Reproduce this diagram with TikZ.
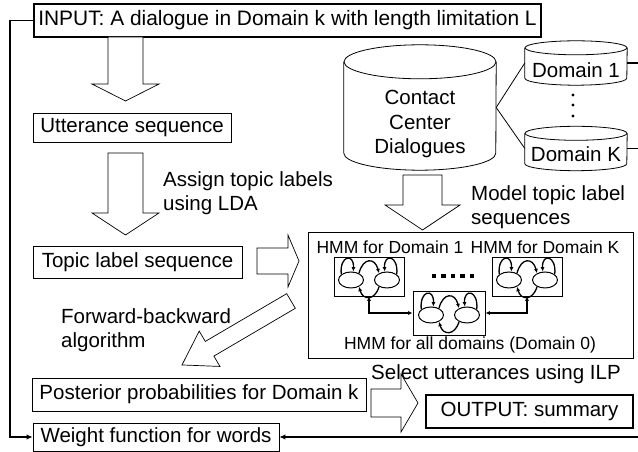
\documentclass[tikz,border=0pt]{standalone}
\usepackage{fontspec}
\setmainfont{Liberation Sans}
\usetikzlibrary{arrows.meta,shapes.geometric}
\newcommand\myhollowarrow[6]{%
  \begin{scope}[shift={#1}, rotate=#2]
    \draw[hollow] (0,#4) -- ({#3-#6},#4) -- ({#3-#6},#5) -- (#3,0) -- ({#3-#6},-#5) -- ({#3-#6},-#4) -- (0,-#4) -- cycle;
  \end{scope}}
\begin{document}
\begin{tikzpicture}[x=1pt,y=1pt,
  every node/.style={font=\fontsize{20.5}{24.5}\selectfont, inner sep=0pt},
  box/.style={draw, line width=0.8pt},
  thickbox/.style={draw, line width=1.7pt},
  hollow/.style={draw, line width=0.7pt, fill=white, line join=miter},
  fb/.style={line width=1.8pt},
  fbtip/.style={-{Latex[length=6pt,width=5.5pt]}},
  cyl/.style={line width=0.8pt},
  hst/.style={draw, ellipse, line width=1pt, minimum width=25pt, minimum height=16pt},
  hed/.style={line width=1.3pt, -{Latex[length=4.5pt,width=4pt]}},
  hlink/.style={line width=1.2pt, {Latex[length=4.5pt,width=4pt]}-{Latex[length=4.5pt,width=4pt]}},
  small/.style={font=\fontsize{17.5}{20}\selectfont},
  hmmgraph/.pic={
    \node[hst] (-a) at (-18,0) {};
    \node[hst] (-b) at (18,0) {};
    \draw[hed] (-a.150) .. controls +(-2,19) and +(1,19) .. (-a.75);
    \draw[hed] (-b.30) .. controls +(2,19) and +(-1,19) .. (-b.105);
    \draw[hed] (-a.40) .. controls +(4,16) and +(-4,16) .. (-b.140);
    \draw[hed] (-b.-140) .. controls +(-4,-14) and +(4,-14) .. (-a.-40);
  }
]
\useasboundingbox (0,0) rectangle (638,452);

% main boxes
\node[thickbox, minimum width=507pt, minimum height=33pt, font=\fontsize{20.9}{25}\selectfont] (inp) at (287.5,431.5) {INPUT: A dialogue in Domain k with length limitation L};
\node[box, minimum width=198pt, minimum height=29pt] (utt) at (132,324.5) {Utterance sequence};
\node[box, minimum width=209pt, minimum height=32pt] (top) at (137.5,190) {Topic label sequence};
\node[box, minimum width=334pt, minimum height=33pt] (post) at (199,57.5) {Posterior probabilities for Domain k};
\node[box, minimum width=246pt, minimum height=28pt] (wt) at (156,15) {Weight function for words};
\node[thickbox, minimum width=207pt, minimum height=33pt] (out) at (529.5,40.5) {OUTPUT: summary};

% labels
\node[align=left, anchor=west] (lda) at (163,259) {Assign topic labels\\using LDA};
\node[align=left, anchor=west] (mtl) at (471,245) {Model topic label\\sequences};
\node[align=left, anchor=west] (fba) at (61,122) {Forward-backward\\algorithm};
\node (ilp) at (496,78) {Select utterances using ILP};

% Contact center cylinder
\node[minimum width=152pt, minimum height=125pt] (ccd) at (420,344.5) {};
\draw[cyl] ([yshift=-17pt]ccd.north west) -- ([yshift=17pt]ccd.south west) arc[start angle=180, end angle=360, x radius=76pt, y radius=17pt] -- ([yshift=-17pt]ccd.north east);
\draw[cyl] ([yshift=-17pt]ccd.north) ellipse[x radius=76pt, y radius=17pt];
\node[align=center] (ccdt) at (420,328) {Contact\\Center\\Dialogues};

% Domain cylinders
\node[minimum width=102pt, minimum height=44pt] (d1) at (576,389) {};
\draw[cyl] ([yshift=-7pt]d1.north west) -- ([yshift=7pt]d1.south west) arc[start angle=180, end angle=360, x radius=51pt, y radius=7pt] -- ([yshift=-7pt]d1.north east);
\draw[cyl] ([yshift=-7pt]d1.north) ellipse[x radius=51pt, y radius=7pt];
\node (d1t) at (576,382) {Domain 1};

\node[minimum width=102pt, minimum height=44pt] (dk) at (576,303.5) {};
\draw[cyl] ([yshift=-7pt]dk.north west) -- ([yshift=7pt]dk.south west) arc[start angle=180, end angle=360, x radius=51pt, y radius=7pt] -- ([yshift=-7pt]dk.north east);
\draw[cyl] ([yshift=-7pt]dk.north) ellipse[x radius=51pt, y radius=7pt];
\node (dkt) at (576,298) {Domain K};

\foreach \yy in {357,347,336} \fill (573,\yy) circle (1.7pt);

\draw[cyl] (ccd.east) -- (d1.west);
\draw[cyl] (ccd.east) -- (dk.west);
\coordinate (r1) at (638,389);
\coordinate (rk) at (638,303.5);
\coordinate (rb) at (638,15);
\draw[fb] (d1.east) -- (r1);
\draw[fb] (dk.east) -- (rk);

% HMM region
\node[box, minimum width=325pt, minimum height=126pt] (hmm) at (470.5,157) {};
\node[small] (t1) at (390,205) {HMM for Domain 1};
\node[small] (tk) at (545,205) {HMM for Domain K};
\node[small] (t0) at (470,107) {HMM for all domains (Domain 0)};
\node[box, minimum width=70pt, minimum height=39pt] (b1) at (369,175.5) {};
\node[box, minimum width=70pt, minimum height=39pt] (bk) at (527,175.5) {};
\node[box, minimum width=72pt, minimum height=44pt] (b0) at (449,139) {};
\pic (g1) at (369,172) {hmmgraph};
\pic (gk) at (527,172) {hmmgraph};
\pic (g0) at (449,137) {hmmgraph};
\draw[hlink] (b1.south) |- (b0.west);
\draw[hlink] (bk.south) |- (b0.east);
\foreach \xx in {434,443.5,453,462.5,472} \fill (\xx-2.2,173.8) rectangle (\xx+2.2,178.2);

% hollow arrows
\myhollowarrow{(125.5,415)}{-90}{64}{17.5}{33.5}{17}
\myhollowarrow{(125.5,299)}{-90}{82}{17.5}{33.5}{22}
\myhollowarrow{(422.5,277)}{-90}{55}{19.5}{37.5}{25}
\myhollowarrow{(257,191)}{0}{42}{13}{26}{11}
\myhollowarrow{(291,151)}{210.4}{126.4}{8.5}{20.5}{32}
\myhollowarrow{(371,49)}{0}{47}{14}{29}{17}

% feedback lines
\coordinate (l1) at (10,431.5);
\coordinate (l2) at (10,15);
\draw[fb, fbtip] (inp.west) -- (l1) -- (l2) -- (wt.west);
\draw[fb, fbtip] (rb) -- (wt.east);
\end{tikzpicture}
\end{document}
